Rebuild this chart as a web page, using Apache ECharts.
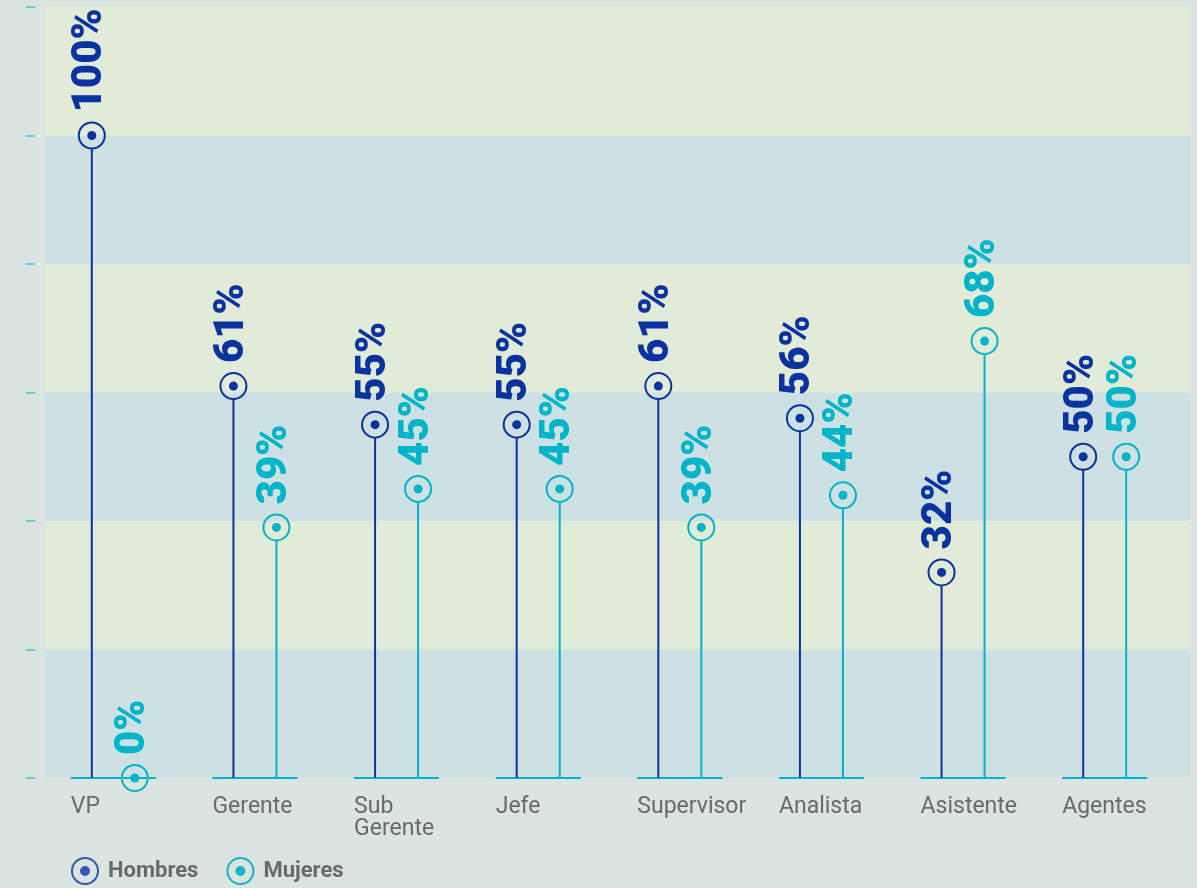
<!DOCTYPE html>
<html>
<head>
<meta charset="utf-8">
<script src="https://cdn.jsdelivr.net/npm/echarts@6/dist/echarts.min.js"></script>
<style>
  html, body { margin: 0; padding: 0; background: #dbe4e0; }
  #chart { width: 1197px; height: 888px; }
</style>
</head>
<body>
<div id="chart"></div>
<script>
// Cargos y porcentaje por sexo
const categories = ['VP', 'Gerente', 'Sub\nGerente', 'Jefe', 'Supervisor', 'Analista', 'Asistente', 'Agentes'];
const hombres = [100, 61, 55, 55, 61, 56, 32, 50];
const mujeres = [0, 39, 45, 45, 39, 44, 68, 50];
const yTicks = [0, 20, 40, 60, 80, 100, 120];

const C_HOMBRES = '#0a32a0';
const C_MUJERES = '#00b4ca';
const BAND_GREEN = '#e2ebd8';
const BAND_BLUE = '#cde1e4';

// ring + dot icon for the legend (outer ring clockwise, inner counter-clockwise)
const RING_ICON = 'path://M1,15A14,14 0 1,1 29,15A14,14 0 1,1 1,15Z' +
  'M3,15A12,12 0 1,0 27,15A12,12 0 1,0 3,15Z' +
  'M10,15A5,5 0 1,1 20,15A5,5 0 1,1 10,15Z';

function lollipop(dx, color) {
  return function (params, api) {
    const cat = api.value(0);
    const v = api.value(1);
    const p = api.coord([cat, v]);
    const base = api.coord([cat, 0]);
    const x = p[0] + dx;
    const y = p[1];
    const children = [];
    if (base[1] - (y + 13) > 0) {
      children.push({
        type: 'line',
        shape: { x1: x, y1: base[1], x2: x, y2: y + 13 },
        style: { stroke: color, lineWidth: 2 }
      });
    }
    children.push(
      { type: 'circle', shape: { cx: x, cy: y, r: 13 }, style: { fill: 'none', stroke: color, lineWidth: 2 } },
      { type: 'circle', shape: { cx: x, cy: y, r: 4.5 }, style: { fill: color } },
      {
        type: 'text', x: x - 1, y: y - 23, rotation: Math.PI / 2,
        style: {
          text: v + '%', fill: color,
          font: '900 42px Roboto',
          align: 'left', verticalAlign: 'middle'
        }
      }
    );
    return { type: 'group', children: children };
  };
}

function baseline(params, api) {
  const cat = api.value(0);
  const p = api.coord([cat, 0]);
  return {
    type: 'line',
    shape: { x1: p[0] - 42, y1: p[1], x2: p[0] + 43, y2: p[1] },
    style: { stroke: C_MUJERES, lineWidth: 2 }
  };
}

const idx = categories.map((c, i) => i);

const chart = echarts.init(document.getElementById('chart'), null, { renderer: 'canvas' });
chart.setOption({
  backgroundColor: '#dbe4e0',
  animation: false,
  grid: [
    // striped background + left ticks
    { left: 45, right: 7, top: 7, bottom: 110 },
    // lollipops
    { left: 42, right: 22, top: 7, bottom: 110 },
    // category labels (left-aligned under each group)
    { left: 0, right: 64, top: 7, bottom: 110 }
  ],
  xAxis: [
    { gridIndex: 0, type: 'category', data: categories, show: false },
    { gridIndex: 1, type: 'category', data: categories, show: false },
    {
      gridIndex: 2, type: 'category', data: categories,
      axisLine: { show: false }, axisTick: { show: false },
      axisLabel: {
        interval: 0, hideOverlap: false,
        align: 'left', margin: 18,
        color: '#676b6c', fontSize: 23, fontFamily: 'Roboto',
        lineHeight: 22
      }
    }
  ],
  yAxis: [
    {
      gridIndex: 0, type: 'value', min: 0, max: 120, interval: 20,
      offset: 10,
      axisLine: { show: false },
      axisTick: { show: true, length: 9, lineStyle: { color: '#4fc0cc', width: 1.5 } },
      axisLabel: { show: false },
      splitLine: { show: false },
      splitArea: { show: true, areaStyle: { color: [BAND_BLUE, BAND_GREEN] } }
    },
    { gridIndex: 1, type: 'value', min: 0, max: 120, interval: 20, show: false, splitLine: { show: false } },
    { gridIndex: 2, type: 'value', min: 0, max: 120, interval: 20, show: false, splitLine: { show: false } }
  ],
  legend: {
    left: 71, top: 857, padding: 0,
    itemWidth: 28, itemHeight: 28, itemGap: 28,
    textStyle: { color: '#676b6c', fontSize: 22, fontWeight: 'bold', fontFamily: 'Roboto', padding: [0, 0, 0, 4] },
    data: [
      { name: 'Hombres', icon: RING_ICON, itemStyle: { color: '#3457b4' } },
      { name: 'Mujeres', icon: RING_ICON, itemStyle: { color: '#12b6c9' } }
    ]
  },
  series: [
    {
      name: 'base', type: 'custom', xAxisIndex: 1, yAxisIndex: 1,
      renderItem: baseline, data: idx.map(i => [i, 0]), silent: true
    },
    {
      name: 'Hombres', type: 'custom', xAxisIndex: 1, yAxisIndex: 1,
      itemStyle: { color: C_HOMBRES },
      renderItem: lollipop(-21, C_HOMBRES),
      data: idx.map(i => [i, hombres[i]])
    },
    {
      name: 'Mujeres', type: 'custom', xAxisIndex: 1, yAxisIndex: 1,
      itemStyle: { color: C_MUJERES },
      renderItem: lollipop(22, C_MUJERES),
      data: idx.map(i => [i, mujeres[i]])
    }
  ]
});
</script>
</body>
</html>
